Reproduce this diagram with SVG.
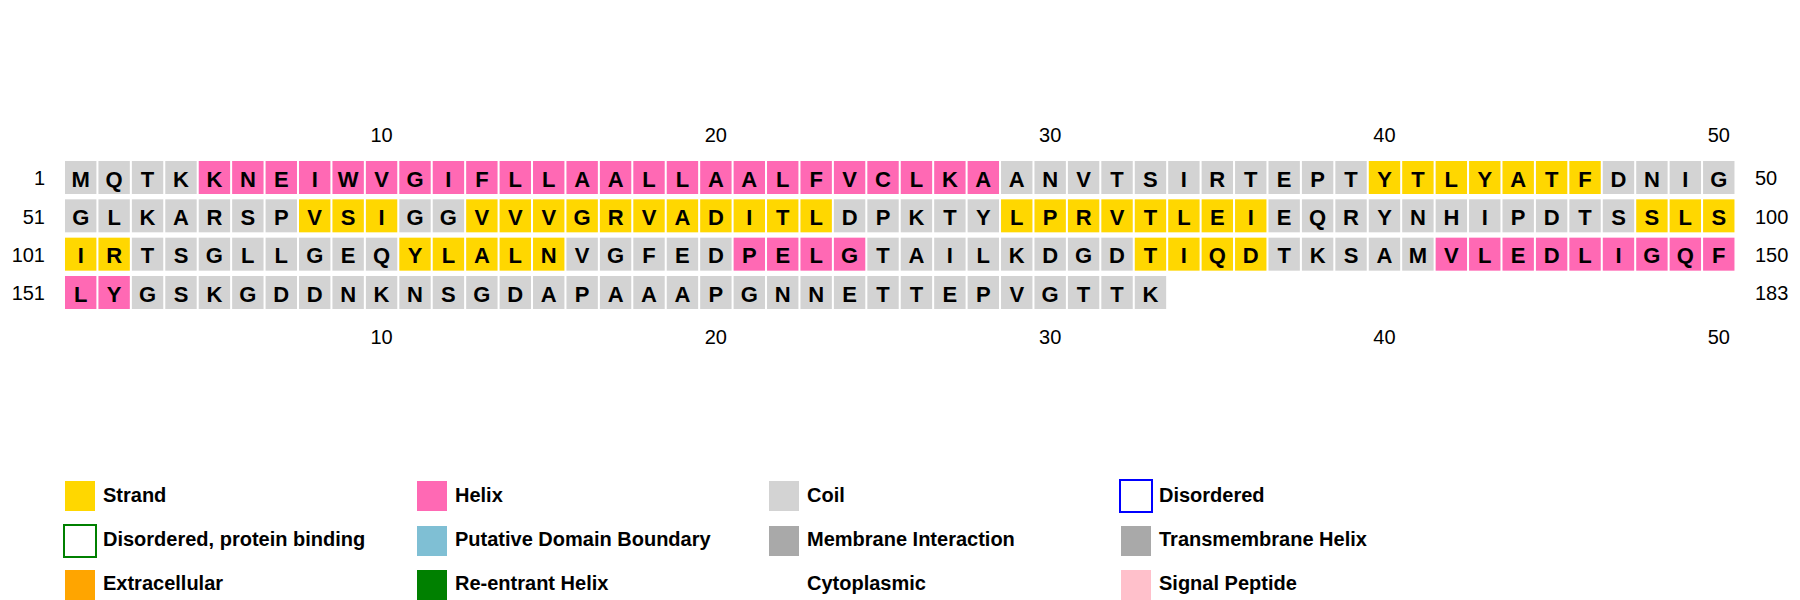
<svg xmlns="http://www.w3.org/2000/svg" width="1800" height="600" viewBox="0 0 1800 600">
<style>
.s{fill:#FFD700}.h{fill:#FF69B4}.c{fill:#D3D3D3}
.res{font-family:"Liberation Sans",Arial,sans-serif;font-size:22px;font-weight:bold;fill:#000;text-anchor:middle}
.num{font-family:"Liberation Sans",Arial,sans-serif;font-size:20px;fill:#000}
.lg{font-family:"Liberation Sans",Arial,sans-serif;font-size:20px;font-weight:bold;fill:#000}
</style>
<defs>
<rect id="cs" class="s" width="31.4" height="33"/>
<rect id="ch" class="h" width="31.4" height="33"/>
<rect id="cc" class="c" width="31.4" height="33"/>
</defs>
<g id="column-labels-top" class="num" text-anchor="middle">
<text x="381.57" y="142">10</text><text x="715.87" y="142">20</text><text x="1050.17" y="142">30</text><text x="1384.47" y="142">40</text><text x="1718.77" y="142">50</text>
</g>
<g id="column-labels-bottom" class="num" text-anchor="middle">
<text x="381.57" y="344">10</text><text x="715.87" y="344">20</text><text x="1050.17" y="344">30</text><text x="1384.47" y="344">40</text><text x="1718.77" y="344">50</text>
</g>
<g id="row-labels-left" class="num" text-anchor="end">
<text x="45" y="185.3">1</text><text x="45" y="223.6">51</text><text x="45" y="262">101</text><text x="45" y="300.3">151</text>
</g>
<g id="row-labels-right" class="num" text-anchor="start">
<text x="1755" y="185.3">50</text><text x="1755" y="223.6">100</text><text x="1755" y="262">150</text><text x="1755" y="300.3">183</text>
</g>
<g id="row1" transform="translate(0,161)">
<use href="#cc" x="65"/><use href="#cc" x="98.43"/><use href="#cc" x="131.86"/><use href="#cc" x="165.29"/>
<use href="#ch" x="198.72"/><use href="#ch" x="232.15"/><use href="#ch" x="265.58"/><use href="#ch" x="299.01"/><use href="#ch" x="332.44"/><use href="#ch" x="365.87"/><use href="#ch" x="399.3"/><use href="#ch" x="432.73"/><use href="#ch" x="466.16"/><use href="#ch" x="499.59"/><use href="#ch" x="533.02"/><use href="#ch" x="566.45"/><use href="#ch" x="599.88"/><use href="#ch" x="633.31"/><use href="#ch" x="666.74"/><use href="#ch" x="700.17"/><use href="#ch" x="733.6"/><use href="#ch" x="767.03"/><use href="#ch" x="800.46"/><use href="#ch" x="833.89"/><use href="#ch" x="867.32"/><use href="#ch" x="900.75"/><use href="#ch" x="934.18"/><use href="#ch" x="967.61"/>
<use href="#cc" x="1001.04"/><use href="#cc" x="1034.47"/><use href="#cc" x="1067.9"/><use href="#cc" x="1101.33"/><use href="#cc" x="1134.76"/><use href="#cc" x="1168.19"/><use href="#cc" x="1201.62"/><use href="#cc" x="1235.05"/><use href="#cc" x="1268.48"/><use href="#cc" x="1301.91"/><use href="#cc" x="1335.34"/>
<use href="#cs" x="1368.77"/><use href="#cs" x="1402.2"/><use href="#cs" x="1435.63"/><use href="#cs" x="1469.06"/><use href="#cs" x="1502.49"/><use href="#cs" x="1535.92"/><use href="#cs" x="1569.35"/>
<use href="#cc" x="1602.78"/><use href="#cc" x="1636.21"/><use href="#cc" x="1669.64"/><use href="#cc" x="1703.07"/>
<text class="res" y="25.5" x="80.7 114.13 147.56 180.99 214.42 247.85 281.28 314.71 348.14 381.57 415 448.43 481.86 515.29 548.72 582.15 615.58 649.01 682.44 715.87 749.3 782.73 816.16 849.59 883.02 916.45 949.88 983.31 1016.74 1050.17 1083.6 1117.03 1150.46 1183.89 1217.32 1250.75 1284.18 1317.61 1351.04 1384.47 1417.9 1451.33 1484.76 1518.19 1551.62 1585.05 1618.48 1651.91 1685.34 1718.77">MQTKKNEIWVGIFLLAALLAALFVCLKAANVTSIRTEPTYTLYATFDNIG</text>
</g>
<g id="row2" transform="translate(0,199.33)">
<use href="#cc" x="65"/><use href="#cc" x="98.43"/><use href="#cc" x="131.86"/><use href="#cc" x="165.29"/><use href="#cc" x="198.72"/><use href="#cc" x="232.15"/><use href="#cc" x="265.58"/>
<use href="#cs" x="299.01"/><use href="#cs" x="332.44"/><use href="#cs" x="365.87"/>
<use href="#cc" x="399.3"/><use href="#cc" x="432.73"/>
<use href="#cs" x="466.16"/><use href="#cs" x="499.59"/><use href="#cs" x="533.02"/><use href="#cs" x="566.45"/><use href="#cs" x="599.88"/><use href="#cs" x="633.31"/><use href="#cs" x="666.74"/><use href="#cs" x="700.17"/><use href="#cs" x="733.6"/><use href="#cs" x="767.03"/><use href="#cs" x="800.46"/>
<use href="#cc" x="833.89"/><use href="#cc" x="867.32"/><use href="#cc" x="900.75"/><use href="#cc" x="934.18"/><use href="#cc" x="967.61"/>
<use href="#cs" x="1001.04"/><use href="#cs" x="1034.47"/><use href="#cs" x="1067.9"/><use href="#cs" x="1101.33"/><use href="#cs" x="1134.76"/><use href="#cs" x="1168.19"/><use href="#cs" x="1201.62"/><use href="#cs" x="1235.05"/>
<use href="#cc" x="1268.48"/><use href="#cc" x="1301.91"/><use href="#cc" x="1335.34"/><use href="#cc" x="1368.77"/><use href="#cc" x="1402.2"/><use href="#cc" x="1435.63"/><use href="#cc" x="1469.06"/><use href="#cc" x="1502.49"/><use href="#cc" x="1535.92"/><use href="#cc" x="1569.35"/><use href="#cc" x="1602.78"/>
<use href="#cs" x="1636.21"/><use href="#cs" x="1669.64"/><use href="#cs" x="1703.07"/>
<text class="res" y="25.5" x="80.7 114.13 147.56 180.99 214.42 247.85 281.28 314.71 348.14 381.57 415 448.43 481.86 515.29 548.72 582.15 615.58 649.01 682.44 715.87 749.3 782.73 816.16 849.59 883.02 916.45 949.88 983.31 1016.74 1050.17 1083.6 1117.03 1150.46 1183.89 1217.32 1250.75 1284.18 1317.61 1351.04 1384.47 1417.9 1451.33 1484.76 1518.19 1551.62 1585.05 1618.48 1651.91 1685.34 1718.77">GLKARSPVSIGGVVVGRVADITLDPKTYLPRVTLEIEQRYNHIPDTSSLS</text>
</g>
<g id="row3" transform="translate(0,237.67)">
<use href="#cs" x="65"/><use href="#cs" x="98.43"/>
<use href="#cc" x="131.86"/><use href="#cc" x="165.29"/><use href="#cc" x="198.72"/><use href="#cc" x="232.15"/><use href="#cc" x="265.58"/><use href="#cc" x="299.01"/><use href="#cc" x="332.44"/><use href="#cc" x="365.87"/>
<use href="#cs" x="399.3"/><use href="#cs" x="432.73"/><use href="#cs" x="466.16"/><use href="#cs" x="499.59"/><use href="#cs" x="533.02"/>
<use href="#cc" x="566.45"/><use href="#cc" x="599.88"/><use href="#cc" x="633.31"/><use href="#cc" x="666.74"/><use href="#cc" x="700.17"/>
<use href="#ch" x="733.6"/><use href="#ch" x="767.03"/><use href="#ch" x="800.46"/><use href="#ch" x="833.89"/>
<use href="#cc" x="867.32"/><use href="#cc" x="900.75"/><use href="#cc" x="934.18"/><use href="#cc" x="967.61"/><use href="#cc" x="1001.04"/><use href="#cc" x="1034.47"/><use href="#cc" x="1067.9"/><use href="#cc" x="1101.33"/>
<use href="#cs" x="1134.76"/><use href="#cs" x="1168.19"/><use href="#cs" x="1201.62"/><use href="#cs" x="1235.05"/>
<use href="#cc" x="1268.48"/><use href="#cc" x="1301.91"/><use href="#cc" x="1335.34"/><use href="#cc" x="1368.77"/><use href="#cc" x="1402.2"/>
<use href="#ch" x="1435.63"/><use href="#ch" x="1469.06"/><use href="#ch" x="1502.49"/><use href="#ch" x="1535.92"/><use href="#ch" x="1569.35"/><use href="#ch" x="1602.78"/><use href="#ch" x="1636.21"/><use href="#ch" x="1669.64"/><use href="#ch" x="1703.07"/>
<text class="res" y="25.5" x="80.7 114.13 147.56 180.99 214.42 247.85 281.28 314.71 348.14 381.57 415 448.43 481.86 515.29 548.72 582.15 615.58 649.01 682.44 715.87 749.3 782.73 816.16 849.59 883.02 916.45 949.88 983.31 1016.74 1050.17 1083.6 1117.03 1150.46 1183.89 1217.32 1250.75 1284.18 1317.61 1351.04 1384.47 1417.9 1451.33 1484.76 1518.19 1551.62 1585.05 1618.48 1651.91 1685.34 1718.77">IRTSGLLGEQYLALNVGFEDPELGTAILKDGDTIQDTKSAMVLEDLIGQF</text>
</g>
<g id="row4" transform="translate(0,276)">
<use href="#ch" x="65"/><use href="#ch" x="98.43"/>
<use href="#cc" x="131.86"/><use href="#cc" x="165.29"/><use href="#cc" x="198.72"/><use href="#cc" x="232.15"/><use href="#cc" x="265.58"/><use href="#cc" x="299.01"/><use href="#cc" x="332.44"/><use href="#cc" x="365.87"/><use href="#cc" x="399.3"/><use href="#cc" x="432.73"/><use href="#cc" x="466.16"/><use href="#cc" x="499.59"/><use href="#cc" x="533.02"/><use href="#cc" x="566.45"/><use href="#cc" x="599.88"/><use href="#cc" x="633.31"/><use href="#cc" x="666.74"/><use href="#cc" x="700.17"/><use href="#cc" x="733.6"/><use href="#cc" x="767.03"/><use href="#cc" x="800.46"/><use href="#cc" x="833.89"/><use href="#cc" x="867.32"/><use href="#cc" x="900.75"/><use href="#cc" x="934.18"/><use href="#cc" x="967.61"/><use href="#cc" x="1001.04"/><use href="#cc" x="1034.47"/><use href="#cc" x="1067.9"/><use href="#cc" x="1101.33"/><use href="#cc" x="1134.76"/>
<text class="res" y="25.5" x="80.7 114.13 147.56 180.99 214.42 247.85 281.28 314.71 348.14 381.57 415 448.43 481.86 515.29 548.72 582.15 615.58 649.01 682.44 715.87 749.3 782.73 816.16 849.59 883.02 916.45 949.88 983.31 1016.74 1050.17 1083.6 1117.03 1150.46">LYGSKGDDNKNSGDAPAAAPGNNETTEPVGTTK</text>
</g>
<g id="legend">
<g id="lg-strand"><rect x="65" y="481" width="30" height="30" fill="#FFD700"/><text class="lg" x="103" y="501.7">Strand</text></g>
<g id="lg-helix"><rect x="417" y="481" width="30" height="30" fill="#FF69B4"/><text class="lg" x="455" y="501.7">Helix</text></g>
<g id="lg-coil"><rect x="769" y="481" width="30" height="30" fill="#D3D3D3"/><text class="lg" x="807" y="501.7">Coil</text></g>
<g id="lg-disordered"><rect x="1120" y="480" width="32" height="32" fill="#fff" stroke="#0000FF" stroke-width="2"/><text class="lg" x="1159" y="501.7">Disordered</text></g>
<g id="lg-dpb"><rect x="64" y="525" width="32" height="32" fill="#fff" stroke="#008000" stroke-width="2"/><text class="lg" x="103" y="546">Disordered, protein binding</text></g>
<g id="lg-pdb"><rect x="417" y="526" width="30" height="30" fill="#7FBFD4"/><text class="lg" x="455" y="546">Putative Domain Boundary</text></g>
<g id="lg-mi"><rect x="769" y="526" width="30" height="30" fill="#A9A9A9"/><text class="lg" x="807" y="546">Membrane Interaction</text></g>
<g id="lg-tm"><rect x="1121" y="526" width="30" height="30" fill="#A9A9A9"/><text class="lg" x="1159" y="546">Transmembrane Helix</text></g>
<g id="lg-extra"><rect x="65" y="570" width="30" height="30" fill="#FFA500"/><text class="lg" x="103" y="590">Extracellular</text></g>
<g id="lg-reh"><rect x="417" y="570" width="30" height="30" fill="#008000"/><text class="lg" x="455" y="590">Re-entrant Helix</text></g>
<g id="lg-cyto"><text class="lg" x="807" y="590">Cytoplasmic</text></g>
<g id="lg-sp"><rect x="1121" y="570" width="30" height="30" fill="#FFC0CB"/><text class="lg" x="1159" y="590">Signal Peptide</text></g>
</g>
</svg>
